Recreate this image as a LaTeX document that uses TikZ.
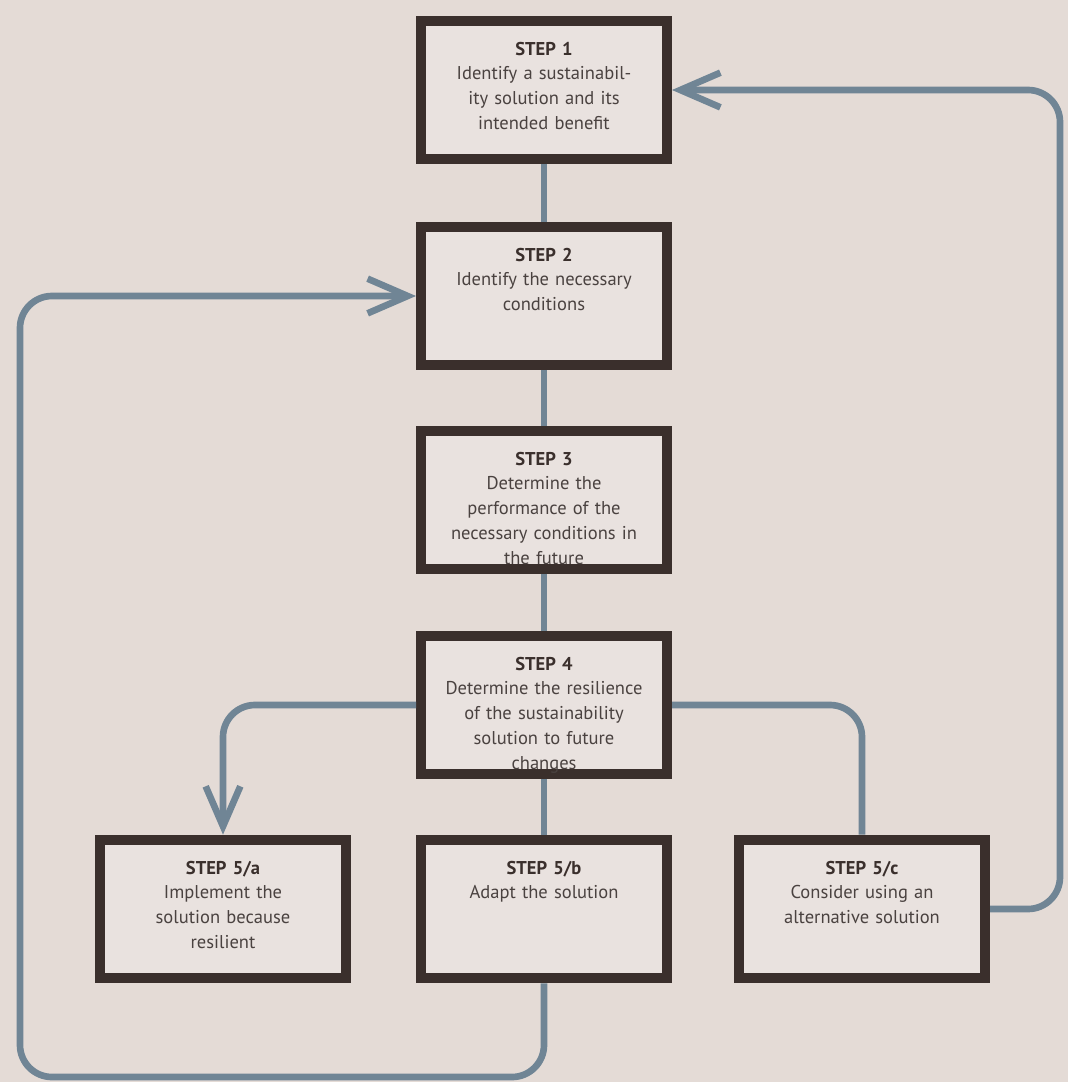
\documentclass[tikz,border=0pt]{standalone}
\usepackage{xcolor}
\usepackage{fontspec}
\setmainfont{PT Sans}
\usepackage{tikz}
\usetikzlibrary{shapes, arrows.meta, positioning}
\usetikzlibrary{calc}
\definecolor{paper}{RGB}{228,219,214}
\definecolor{boxfill}{RGB}{233,226,223}
\definecolor{frame}{RGB}{58,47,44}
\definecolor{link}{RGB}{112,133,149}
\definecolor{ink}{RGB}{74,66,64}
\newcommand{\stephead}[1]{\textbf{\color{frame}STEP #1}}

\begin{document}
\begin{tikzpicture}
  [
    x=0.75pt, y=-0.75pt,
    Box/.style={rectangle, draw=frame, fill=boxfill, line width=7.5pt, minimum width=184.5pt, minimum height=104pt, inner sep=0pt},
    Caption/.style={anchor=north, yshift=-19.5pt, inner sep=0pt, text width=180pt, align=center, text=ink, font=\fontsize{13.9}{18.6}\selectfont},
    Link/.style={draw=link, line width=5pt},
    >={Straight Barb[length=30pt, width=26pt]}
  ]
  % Page
  \fill[paper] (0,0) rectangle (1068,1082);
  % Nodes
  \node[Box, label={[Caption]north:{\stephead{1}\\Identify a sustainabil-\\ity solution and its\\intended benefit}}] (s1) at (544,90) {};
  \node[Box, label={[Caption]north:{\stephead{2}\\Identify the necessary\\conditions}}] (s2) at (544,296) {};
  \node[Box, label={[Caption]north:{\stephead{3}\\Determine the\\performance of the\\necessary conditions in\\the future}}] (s3) at (544,500) {};
  \node[Box, label={[Caption]north:{\stephead{4}\\Determine the resilience\\of the sustainability\\solution to future\\changes}}] (s4) at (544,705) {};
  \node[Box, label={[Caption]north:{\stephead{5/a}\\Implement the\\solution because\\resilient}}] (s5a) at (223,909) {};
  \node[Box, label={[Caption]north:{\stephead{5/b}\\Adapt the solution}}] (s5b) at (544,909) {};
  \node[Box, label={[Caption]north:{\stephead{5/c}\\Consider using an\\alternative solution}}] (s5c) at (862,909) {};
  \coordinate (lowleft) at (20,1077);
  \coordinate (highright) at (1060,500);
  % Lines
  \path [draw, Link] (s1) -- (s2);
  \path [draw, Link] (s2) -- (s3);
  \path [draw, Link] (s3) -- (s4);
  \path [draw, Link] (s4) -- (s5b);
  \path [draw, Link, rounded corners=24pt] (s4.east) -| (s5c.north);
  \path [->, draw, Link, rounded corners=24pt] (s4.west) -| (s5a.north);
  \path [->, draw, Link, rounded corners=24pt] (s5b.south) |- (lowleft) |- (s2.west);
  \path [->, draw, Link, rounded corners=24pt] (s5c.east) -| (highright) |- (s1.east);
\end{tikzpicture}
\end{document}
